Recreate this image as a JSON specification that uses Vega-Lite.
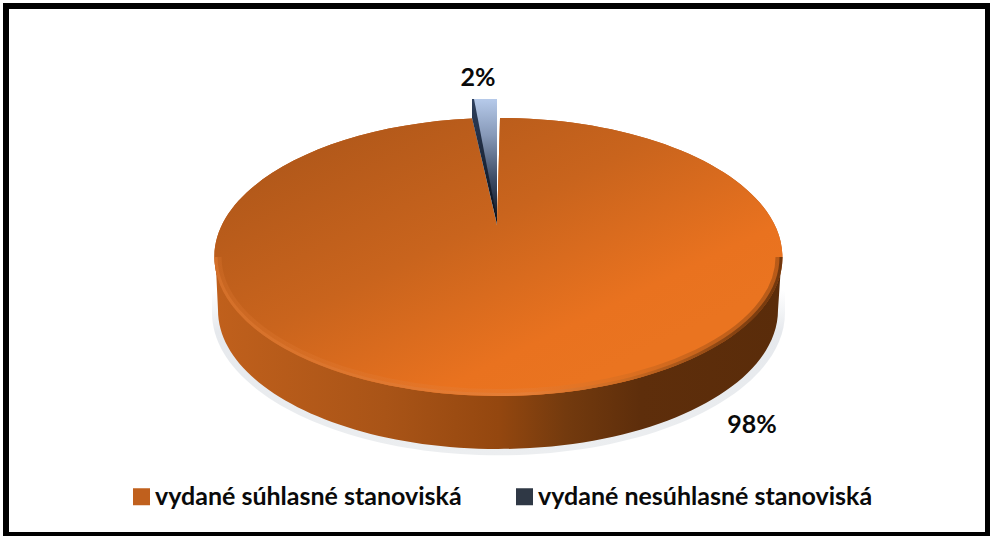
{
"$schema":"https://vega.github.io/schema/vega-lite/v6.json",
"width":990,"height":536,
"autosize":{"type":"fit","contains":"padding"},
"padding":{"left":6,"top":6,"right":2,"bottom":1},
"background":"white",
"view":{"stroke":"black","strokeWidth":6,"fill":"white"},
"data":{"values":[
{"stanovisko":"vydané súhlasné stanoviská","podiel":98,"label":"98%"},
{"stanovisko":"vydané nesúhlasné stanoviská","podiel":2,"label":"2%"}
]},
"layer":[
{"transform":[{"filter":"datum.podiel==98"}],
 "mark":{"type":"point","filled":true,"size":4,"opacity":1,"stroke":null,"shape":"M -285 20 L -285 42 A 285 142 0 0 0 288 42 L 288 20 Z",
 "fill":{"gradient":"linear","x1":0,"y1":0,"x2":0,"y2":1,"stops":[{"offset":0,"color":"#ffffff"},{"offset":0.25,"color":"#e6e9ed"},{"offset":1,"color":"#eceef0"}]}}},
{"transform":[{"filter":"datum.podiel==98"}],
 "mark":{"type":"point","filled":true,"size":4,"opacity":1,"stroke":null,"shape":"M -281.5 -12.5 L -279 39.5 A 280 139 0 0 0 281 39.5 L 284.5 -12.5 Z",
 "fill":{"gradient":"linear","x1":0,"y1":0,"x2":1,"y2":0,"stops":[{"offset":0,"color":"#c0601c"},{"offset":0.3,"color":"#a95417"},{"offset":0.5,"color":"#94470f"},{"offset":0.62,"color":"#733a0e"},{"offset":0.75,"color":"#5e2e0b"},{"offset":1,"color":"#5a2c0a"}]}}},
{"transform":[{"filter":"datum.podiel==98"}],
 "mark":{"type":"point","filled":true,"size":4,"opacity":1,"stroke":null,"shape":"M 3 -152.5 A 284 139 0 1 1 -25 -151.9 L 0 -44.5 Z"},
 "encoding":{"color":{"field":"stanovisko","type":"nominal","scale":{"domain":["vydané súhlasné stanoviská","vydané nesúhlasné stanoviská"],"range":["#c0601d","#2f3845"]},
  "legend":{"title":null,"orient":"none","legendX":123,"legendY":478,"direction":"horizontal","columns":2,"columnPadding":50,"symbolType":"square","symbolSize":289,"symbolStrokeWidth":0,"symbolOpacity":1,"labelFont":"Lato","labelFontWeight":"bold","labelFontSize":25,"labelColor":"#0a0a0a","labelLimit":500,"labelOffset":1}}}},
{"transform":[{"filter":"datum.podiel==98"}],
 "mark":{"type":"point","filled":true,"size":4,"opacity":1,"stroke":null,"shape":"M 3 -152.5 A 284 139 0 1 1 -25 -151.9 L 0 -44.5 Z",
 "fill":{"gradient":"linear","x1":0.1,"y1":0,"x2":0.85,"y2":0.75,"stops":[{"offset":0,"color":"#ab5519"},{"offset":0.5,"color":"#c9641d"},{"offset":0.85,"color":"#e9721f"},{"offset":1,"color":"#ea7420"}]}}},
{"transform":[{"filter":"datum.podiel==98"}],
 "mark":{"type":"point","filled":false,"size":4,"opacity":0.35,"strokeWidth":7,"fill":null,"shape":"M -279 -13.5 A 280.5 135.5 0 0 0 282 -13.5",
 "stroke":{"gradient":"linear","x1":0,"y1":0,"x2":1,"y2":0,"stops":[{"offset":0,"color":"#d8732c"},{"offset":0.55,"color":"#e5803a"},{"offset":0.72,"color":"#c96a22"},{"offset":0.9,"color":"#7a3d10"},{"offset":1,"color":"#5a2c0a"}]}}},
{"transform":[{"filter":"datum.podiel==98"}],
 "mark":{"type":"point","filled":false,"size":4,"opacity":0.75,"strokeWidth":3,"fill":null,"shape":"M -281 -13.5 A 282.5 137.5 0 0 0 284 -13.5",
 "stroke":{"gradient":"linear","x1":0,"y1":0,"x2":1,"y2":0,"stops":[{"offset":0,"color":"#d8732c"},{"offset":0.55,"color":"#e5803a"},{"offset":0.72,"color":"#c96a22"},{"offset":0.9,"color":"#7a3d10"},{"offset":1,"color":"#5a2c0a"}]}}},
{"transform":[{"filter":"datum.podiel==2"}],
 "mark":{"type":"point","filled":true,"size":4,"opacity":1,"stroke":null,"shape":"M -24 -171.5 L 0 -171.5 L 0 -50 Z"},
 "encoding":{"color":{"field":"stanovisko","type":"nominal"}}},
{"transform":[{"filter":"datum.podiel==2"}],
 "mark":{"type":"point","filled":true,"size":4,"opacity":1,"stroke":null,"shape":"M -24 -171.5 L 0 -171.5 L 0 -50 Z",
 "fill":{"gradient":"linear","x1":0,"y1":0,"x2":0,"y2":1,"stops":[{"offset":0,"color":"#b6caea"},{"offset":0.3,"color":"#8799b8"},{"offset":0.65,"color":"#3f4d66"},{"offset":1,"color":"#0c1420"}]}}},
{"transform":[{"filter":"datum.podiel==2"}],
 "mark":{"type":"point","filled":true,"size":4,"opacity":1,"stroke":null,"shape":"M -25 -171.5 L -23 -171.5 L 0 -52 L 0 -46 L -25 -152.5 Z",
 "fill":{"gradient":"linear","x1":0,"y1":0,"x2":0,"y2":1,"stops":[{"offset":0,"color":"#2e3f5c"},{"offset":1,"color":"#0a0f18"}]}}},
{"transform":[{"filter":"datum.podiel==2"}],
 "mark":{"type":"text","font":"Lato","fontWeight":"bold","fontSize":25,"color":"#0a0a0a","align":"center","baseline":"middle","dx":-19,"dy":-193},
 "encoding":{"text":{"field":"label"}}},
{"transform":[{"filter":"datum.podiel==98"}],
 "mark":{"type":"text","font":"Lato","fontWeight":"bold","fontSize":25,"color":"#0a0a0a","align":"center","baseline":"middle","dx":255,"dy":154},
 "encoding":{"text":{"field":"label"}}}
]}
